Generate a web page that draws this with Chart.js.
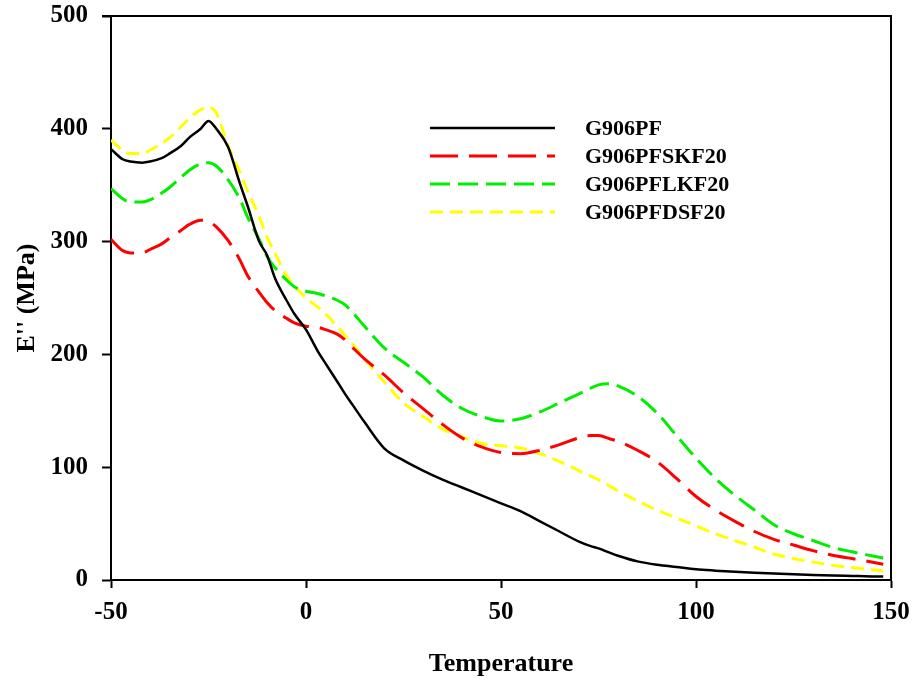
<!DOCTYPE html>
<html>
<head>
<meta charset="utf-8">
<script src="https://cdn.jsdelivr.net/npm/chart.js@4.4.1/dist/chart.umd.min.js"></script>
<style>
  html, body { margin: 0; padding: 0; background: #ffffff; }
  #wrap { width: 912px; height: 682px; }
</style>
</head>
<body>
<div id="wrap"><canvas id="c" width="912" height="682"></canvas></div>
<script>
// ---- data ----
const temperature = [-50,-47,-45,-42,-40,-37,-35,-32,-30,-27,-25,-23,-20,-17,-15,-12,-10,-8,-5,-3,0,3,5,8,10,12,15,20,25,30,35,40,45,50,55,60,65,70,73,75,78,80,85,90,95,100,105,110,115,120,125,130,135,140,145,148];

const g906pf = [382,373,371,370,371,374,378,385,392,400,407,400,384,352,332,300,288,268,248,236,222,203,192,176,165,155,140,117,106,97,89,82,75,68,61,52,43,34,30,28,24,21.5,16.5,13.5,11.5,9.5,8.3,7.3,6.5,5.8,5.1,4.5,4,3.6,3.2,3];

const g906pfskf20 = [302,292,290,290,293,298,303,310,315,319,318,313,301,284,270,255,246,239,232,228,225,224,222,218,213,206,196,182,166,152,138,126,118,113,112,115,120,126,128,128,125,123,115,105,90,74,62,52,43,36,31,26,22,19,16,14];

const g906pflkf20 = [347,338,335,335,337,343,348,357,363,369,370,367,355,338,322,302,287,277,266,260,256,254,252,248,244,237,225,206,193,180,164,152,145,141,143,149,157,165,170,173,174,172,163,148,128,108,90,75,62,49,41,35,29,25,21.5,19.5];

const g906pfdsf20 = [390,381,378,378,381,387,392,402,409,417,419,414,385,362,345,322,304,290,270,261,250,242,236,225,217,209,196,176,157,145,134,127,121,119,117,112,105,97,92,89,83,79,70,62,55,48,41,35,29,23,19,16,13,11,9,8];

const seriesNames = ['G906PF', 'G906PFSKF20', 'G906PFLKF20', 'G906PFDSF20'];
const xTicks = [-50, 0, 50, 100, 150];
const yTicks = [0, 100, 200, 300, 400, 500];

// ---- chart ----
function pts(vals) { return temperature.map((t, i) => ({ x: t, y: vals[i] })); }

const serif = '"Liberation Serif", "Times New Roman", serif';

const legendPlugin = {
  id: 'customLegend',
  afterDatasetsDraw(chart) {
    const ctx = chart.ctx;
    const ca = chart.chartArea;
    const x0 = ca.left + 319, x1 = ca.left + 444, tx = ca.left + 474;
    const y0 = ca.top + 112, dy = 28;
    ctx.save();
    chart.data.datasets.forEach((ds, i) => {
      const y = y0 + i * dy;
      ctx.beginPath();
      ctx.setLineDash(ds.borderDash || []);
      ctx.lineWidth = ds.borderWidth;
      ctx.strokeStyle = ds.borderColor;
      ctx.moveTo(x0, y); ctx.lineTo(x1, y);
      ctx.stroke();
      ctx.setLineDash([]);
      ctx.fillStyle = '#000';
      ctx.font = 'bold 22px ' + serif;
      ctx.textBaseline = 'middle';
      ctx.textAlign = 'left';
      ctx.fillText(ds.label, tx, y + 1);
    });
    ctx.restore();
  }
};

const framePlugin = {
  id: 'frame',
  afterDraw(chart) {
    const ctx = chart.ctx, ca = chart.chartArea;
    ctx.save();
    ctx.strokeStyle = '#000';
    ctx.lineWidth = 2;
    ctx.beginPath();
    ctx.moveTo(ca.left - 9, ca.top);
    ctx.lineTo(ca.right, ca.top);
    ctx.lineTo(ca.right, ca.bottom);
    ctx.stroke();
    ctx.restore();
  }
};

new Chart(document.getElementById('c'), {
  type: 'line',
  data: {
    datasets: [
      { label: seriesNames[0], data: pts(g906pf), borderColor: '#000000', borderWidth: 2.5, borderDash: [] },
      { label: seriesNames[1], data: pts(g906pfskf20), borderColor: '#ff0000', borderWidth: 3, borderDash: [28, 11] },
      { label: seriesNames[2], data: pts(g906pflkf20), borderColor: '#00ee00', borderWidth: 3, borderDash: [20, 8] },
      { label: seriesNames[3], data: pts(g906pfdsf20), borderColor: '#ffff00', borderWidth: 3, borderDash: [13, 7] }
    ]
  },
  options: {
    responsive: false,
    animation: false,
    parsing: true,
    elements: { point: { radius: 0 }, line: { cubicInterpolationMode: 'monotone', fill: false } },
    layout: { padding: { top: 16, right: 21, left: 0, bottom: 0 } },
    plugins: { legend: { display: false }, tooltip: { enabled: false } },
    scales: {
      x: {
        type: 'linear',
        min: -50, max: 150,
        afterBuildTicks(scale) { scale.ticks = xTicks.map(v => ({ value: v })); },
        afterFit(scale) { scale.height = 102; scale.paddingLeft = 0; scale.paddingRight = 0; },
        grid: { drawOnChartArea: false, drawTicks: true, tickLength: 8, tickColor: '#000', tickWidth: 2 },
        border: { display: true, color: '#000', width: 2 },
        ticks: { color: '#000', padding: 10, maxRotation: 0, font: { family: serif, size: 25, weight: 'bold' } },
        title: { display: true, text: 'Temperature', color: '#000', padding: { top: 0, bottom: 2 }, font: { family: serif, size: 26, weight: 'bold' } }
      },
      y: {
        type: 'linear',
        min: 0, max: 500,
        afterBuildTicks(scale) { scale.ticks = yTicks.map(v => ({ value: v })); },
        afterFit(scale) { scale.width = 111; scale.paddingTop = 0; scale.paddingBottom = 0; },
        grid: { drawOnChartArea: false, drawTicks: true, tickLength: 9, tickColor: '#000', tickWidth: 2 },
        border: { display: true, color: '#000', width: 2 },
        ticks: { color: '#000', padding: 14, font: { family: serif, size: 25, weight: 'bold' } },
        title: { display: true, text: "E'' (MPa)", color: '#000', padding: { top: 12, bottom: 0 }, font: { family: serif, size: 26, weight: 'bold' } }
      }
    }
  },
  plugins: [legendPlugin, framePlugin]
});
</script>
</body>
</html>
